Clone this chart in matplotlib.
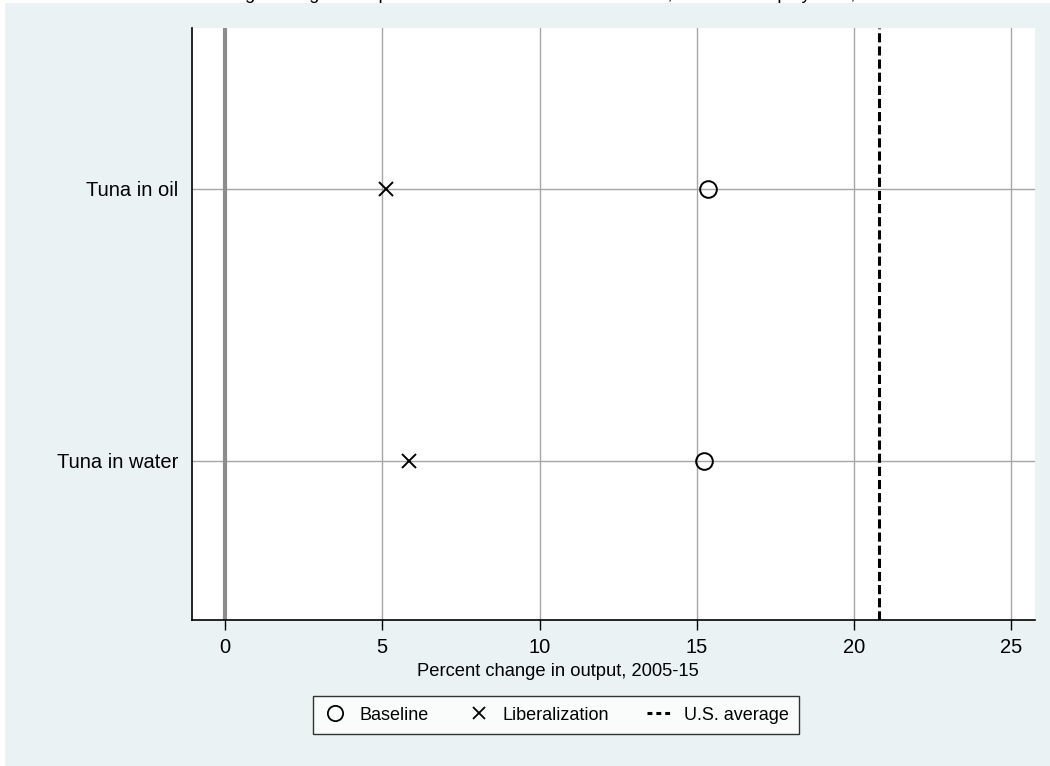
import matplotlib
matplotlib.use("Agg")
import matplotlib.pyplot as plt
from matplotlib.lines import Line2D
from matplotlib.patches import Rectangle

plt.rcParams['font.family'] = ['Liberation Sans', 'DejaVu Sans']

products = ["Tuna in water", "Tuna in oil"]
baseline = [15.23, 15.36]
liberalization = [5.85, 5.12]
us_average = 20.8
xticks = [0, 5, 10, 15, 20, 25]

bg = '#EAF2F3'
grid_col = '#a6a6a6'

fig = plt.figure(figsize=(10.5, 7.66), dpi=100)
fig.patch.set_facecolor('white')
# stata-like outer background panel
fig.patches.append(Rectangle((5 / 1050, 0), 1, 1 - 3 / 766, transform=fig.transFigure,
                             facecolor=bg, edgecolor='none', zorder=-10))

ax = fig.add_axes([192 / 1050, 146 / 766, 843 / 1050, 592 / 766])
ax.set_facecolor('white')

ypos = list(range(1, len(products) + 1))

ax.axvline(0, color='#8c8c8c', lw=3.0, zorder=2)
ax.axvline(us_average, color='black', lw=2.2, linestyle=(0, (3.0, 1.3)), zorder=3)

ax.plot(baseline, ypos, linestyle='none', marker='o', markersize=12,
        markerfacecolor='none', markeredgecolor='black', markeredgewidth=1.4, zorder=4)
ax.plot(liberalization, ypos, linestyle='none', marker='x', markersize=10,
        color='black', markeredgewidth=1.4, zorder=4)

ax.set_xlim(-1.05, 25.75)
ax.set_ylim(0.415, 2.59)
ax.set_xticks(xticks)
ax.set_yticks(ypos)
ax.set_yticklabels(products)
ax.grid(True, color=grid_col, lw=1.0, zorder=1)
ax.set_axisbelow(True)

for s in ['top', 'right']:
    ax.spines[s].set_visible(False)
for s in ['left', 'bottom']:
    ax.spines[s].set_color('black')
    ax.spines[s].set_linewidth(1.2)

ax.tick_params(axis='x', length=7, width=1.0, pad=6, labelsize=14.5)
ax.tick_params(axis='y', length=0, pad=10, labelsize=14.5)

fig.text(558 / 1050, (766 - 671) / 766, "Percent change in output, 2005-15",
         ha='center', va='center', fontsize=13.2)

# title runs off the top of the canvas
fig.text(525 / 1050, 1 + 1 / 766,
         "Tuna: Percentage change in output under baseline and liberalization, and U.S. employment, 2005-15",
         ha='center', va='baseline', fontsize=13)

handles = [
    Line2D([], [], linestyle='none', marker='o', markersize=11, markerfacecolor='none',
           markeredgecolor='black', markeredgewidth=1.3),
    Line2D([], [], linestyle='none', marker='x', markersize=9, color='black',
           markeredgewidth=1.3),
    Line2D([], [], color='black', lw=2.2, linestyle=(0, (1.6, 1.3))),
]
leg = fig.legend(handles, ["Baseline", "Liberalization", "U.S. average"],
                 loc='center', bbox_to_anchor=(556 / 1050, (766 - 715) / 766), ncol=3,
                 fontsize=13, frameon=True, fancybox=False, edgecolor='black',
                 handlelength=1.3, handletextpad=0.7, columnspacing=2.1,
                 borderpad=0.6, borderaxespad=0)
leg.get_frame().set_linewidth(1.0)

fig.savefig("out.png", dpi=100, facecolor=fig.get_facecolor())
